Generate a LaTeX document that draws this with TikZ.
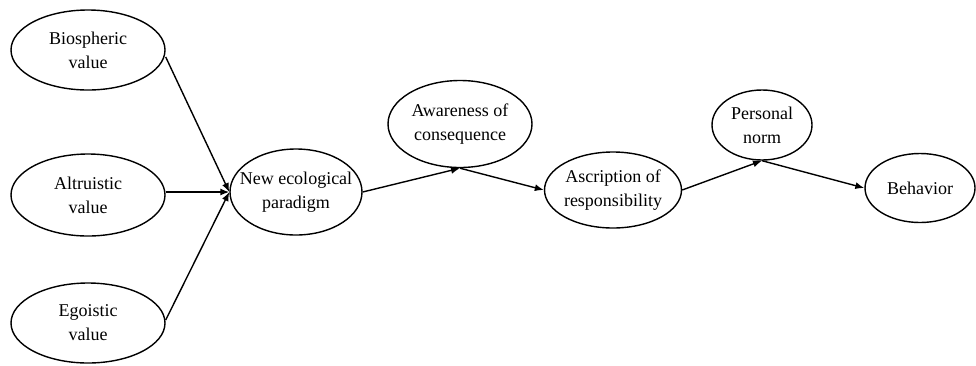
\documentclass[tikz,border=0pt]{standalone}
\usepackage{fontspec}
\setmainfont{Liberation Serif}
\usetikzlibrary{shapes.geometric,arrows.meta}
\begin{document}
\begin{tikzpicture}[x=1pt,y=-1pt,
  ell/.style={draw,ellipse,line width=1.4pt,inner xsep=-16pt,inner ysep=-6pt,align=center,
    font=\fontsize{18}{24}\selectfont},
  conn/.style={line width=1.4pt,-{Latex[length=9pt,width=7pt]}}]
\useasboundingbox (0,0) rectangle (976,365);
\node[ell,minimum width=154pt,minimum height=80pt] (bio) at (88,50) {Biospheric\\value};
\node[ell,minimum width=154pt,minimum height=82pt] (alt) at (88,195) {Altruistic\\value};
\node[ell,minimum width=154pt,minimum height=80pt] (ego) at (88,323) {Egoistic\\value};
\node[ell,minimum width=132pt,minimum height=86pt] (nep) at (296,192) {New ecological\\paradigm};
\node[ell,minimum width=144pt,minimum height=87pt] (awa) at (460,124) {Awareness of\\consequence};
\node[ell,minimum width=137pt,minimum height=76pt] (asc) at (613,190) {Ascription of\\responsibility};
\node[ell,minimum width=100pt,minimum height=70pt] (pn) at (762,125) {Personal\\norm};
\node[ell,minimum width=110pt,minimum height=69pt] (beh) at (920,188) {Behavior};
\draw[conn] (bio.east) ++(0,7) -- (nep.west);
\draw[conn] (alt.east |- nep.west) -- (nep.west);
\draw[conn] (ego.east) ++(0,-3) -- (nep.west);
\draw[conn] (nep.east) -- (awa.south);
\draw[conn] (awa.south) -- (asc.west);
\draw[conn] (asc.east) -- (pn.south);
\draw[conn] (pn.south) -- (beh.west);
\end{tikzpicture}
\end{document}
